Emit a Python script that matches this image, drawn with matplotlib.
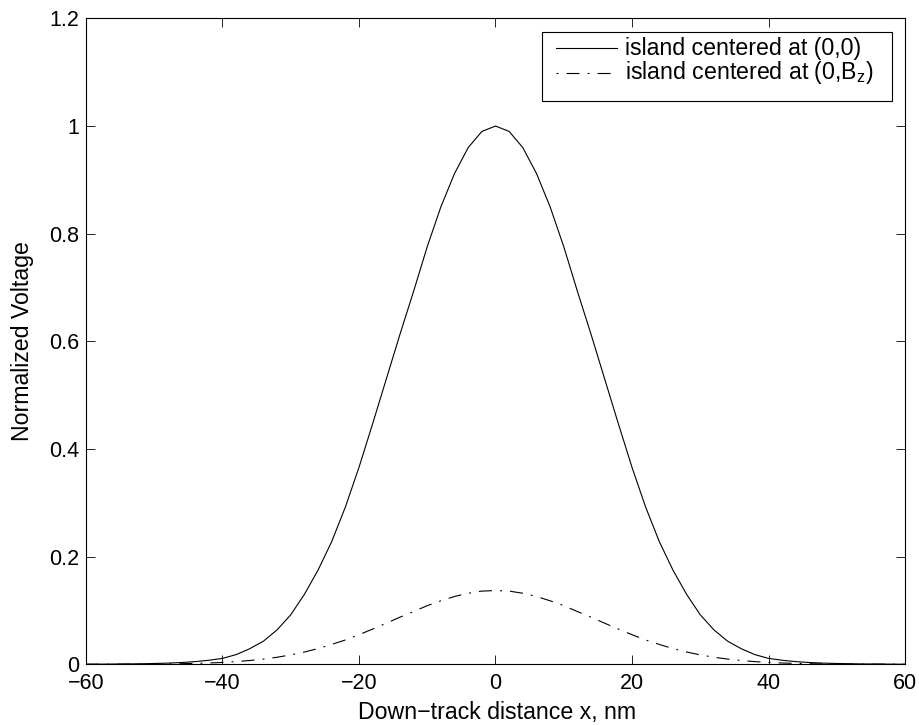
import matplotlib
matplotlib.use("Agg")
import matplotlib.pyplot as plt
from matplotlib.patches import Rectangle
from matplotlib.lines import Line2D

plt.rcParams['font.family'] = ['Liberation Sans', 'DejaVu Sans']
plt.rcParams['mathtext.fontset'] = 'custom'
plt.rcParams['mathtext.rm'] = 'Liberation Sans'
plt.rcParams['lines.scale_dashes'] = False

# Down-track position (nm)
x_nm = [-60, -58, -56, -54, -52, -50, -48, -46, -44, -42, -40, -38, -36, -34, -32,
        -30, -28, -26, -24, -22, -20, -18, -16, -14, -12, -10, -8, -6, -4, -2,
        0, 2, 4, 6, 8, 10, 12, 14, 16, 18, 20, 22, 24, 26, 28,
        30, 32, 34, 36, 38, 40, 42, 44, 46, 48, 50, 52, 54, 56, 58, 60]

# Island centered at (0,0)
v_center = [0.0002, 0.0003, 0.0005, 0.0007, 0.001, 0.0015, 0.0022, 0.0033, 0.005, 0.0075,
            0.011, 0.018, 0.029, 0.043, 0.064, 0.092, 0.130, 0.175, 0.228, 0.292,
            0.366, 0.447, 0.530, 0.613, 0.693, 0.776, 0.850, 0.912, 0.960, 0.990,
            1.000,
            0.990, 0.960, 0.912, 0.850, 0.776, 0.693, 0.613, 0.530, 0.447, 0.366,
            0.292, 0.228, 0.175, 0.130, 0.092, 0.064, 0.043, 0.029, 0.018, 0.011,
            0.0075, 0.005, 0.0033, 0.0022, 0.0015, 0.001, 0.0007, 0.0005, 0.0003, 0.0002]

# Island centered at (0,Bz)
v_offset = [0.0000, 0.0001, 0.0001, 0.0002, 0.0003, 0.0005, 0.0007, 0.0011, 0.0017, 0.0024,
            0.0035, 0.0050, 0.0071, 0.0097, 0.0131, 0.0175, 0.0228, 0.0292, 0.0369, 0.0452,
            0.0550, 0.0655, 0.0763, 0.0875, 0.098, 0.109, 0.118, 0.126, 0.132, 0.136,
            0.137,
            0.136, 0.132, 0.126, 0.118, 0.109, 0.098, 0.0875, 0.0763, 0.0655, 0.0550,
            0.0452, 0.0369, 0.0292, 0.0228, 0.0175, 0.0131, 0.0097, 0.0071, 0.0050, 0.0035,
            0.0024, 0.0017, 0.0011, 0.0007, 0.0005, 0.0003, 0.0002, 0.0001, 0.0001, 0.0000]

x_ticks = [-60, -40, -20, 0, 20, 40, 60]
y_ticks = [0, 0.2, 0.4, 0.6, 0.8, 1.0, 1.2]
y_tick_labels = ['0', '0.2', '0.4', '0.6', '0.8', '1', '1.2']
labels = ['island centered at (0,0)', r'island centered at (0,B$_\mathregular{z}$)']

W, H = 920, 725
fig = plt.figure(figsize=(W / 100, H / 100), dpi=100)
ax_l, ax_r, ax_t, ax_b = 86, 905, 18.4, 664.3
ax = fig.add_axes([ax_l / W, 1 - ax_b / H, (ax_r - ax_l) / W, (ax_b - ax_t) / H])

dash_pat = (9.4, 5.8, 1.4, 5.8)
ax.plot(x_nm, v_center, color='black', lw=0.8, label=labels[0])
ax.plot(x_nm, v_offset, color='black', lw=0.8, linestyle=(0, dash_pat), label=labels[1])

ax.set_xlim(-60, 60)
ax.set_ylim(0, 1.2)
ax.set_xticks(x_ticks)
ax.set_yticks(y_ticks)
ax.set_yticklabels(y_tick_labels)
fs_tick = 15.5
fs_text = 16.7
ax.tick_params(direction='in', top=True, right=True, length=6.5, width=0.6,
               labelsize=fs_tick, colors='black')
ax.tick_params(axis='y', pad=5.0)
ax.tick_params(axis='x', pad=6)
for s in ax.spines.values():
    s.set_linewidth(0.8)

fig.text(497 / W, 1 - 712 / H, 'Down\u2212track distance x, nm', ha='center', va='center',
         fontsize=fs_text)
fig.text(23 / W, 1 - 341 / H, 'Normalized Voltage', ha='center', va='center', rotation=90,
         fontsize=fs_text)

# legend box with its entries
lg_l, lg_r, lg_t, lg_b = 542, 892, 31.7, 101
fig.patches.append(Rectangle((lg_l / W, 1 - lg_b / H), (lg_r - lg_l) / W, (lg_b - lg_t) / H,
                             transform=fig.transFigure, facecolor='white', edgecolor='black',
                             lw=0.8, zorder=5))
rows = [48.3, 72.5]
styles = ['-', (dash_pat[0] + dash_pat[1], dash_pat)]
for yy, st, lab in zip(rows, styles, labels):
    fig.add_artist(Line2D([556 / W, 617 / W], [1 - yy / H, 1 - yy / H], transform=fig.transFigure,
                          color='black', lw=0.8, linestyle=st, zorder=6))
    fig.text(625 / W, 1 - yy / H, lab, ha='left', va='center', fontsize=fs_text, zorder=6)

fig.savefig('out.png', dpi=100, facecolor='white')
